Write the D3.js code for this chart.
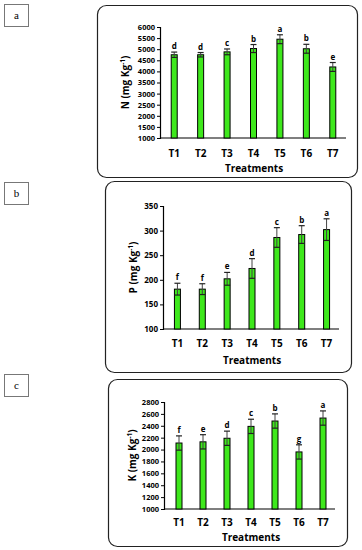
<!DOCTYPE html>
<html>
<head>
<meta charset="utf-8">
<script src="https://cdn.jsdelivr.net/npm/d3@7"></script>
<style>
  body { margin: 0; background: #fff; }
  svg text { font-family: "Open Sans", "Liberation Sans", sans-serif; }
</style>
</head>
<body>
<svg id="fig" width="362" height="550"></svg>
<script>
const treatments = ["T1", "T2", "T3", "T4", "T5", "T6", "T7"];

// N
const nValues = [4750, 4750, 4880, 5030, 5450, 5020, 4200];
const nErrors = [120, 100, 130, 180, 200, 200, 200];
const nLetters = ["d", "d", "c", "b", "a", "b", "e"];
const nTicks = [1000, 1500, 2000, 2500, 3000, 3500, 4000, 4500, 5000, 5500, 6000];

// P
const pValues = [181, 181, 202, 223, 286, 292, 302];
const pErrors = [12, 11, 13, 20, 20, 18, 22];
const pLetters = ["f", "f", "e", "d", "c", "b", "a"];
const pTicks = [100, 150, 200, 250, 300, 350];

// K
const kValues = [2110, 2130, 2190, 2390, 2480, 1960, 2530];
const kErrors = [120, 120, 120, 120, 120, 120, 120];
const kLetters = ["f", "e", "d", "c", "b", "g", "a"];
const kTicks = [1000, 1200, 1400, 1600, 1800, 2000, 2200, 2400, 2600, 2800];

const svg = d3.select('#fig');

function drawPanel(p) {
  // panel tag box
  svg.append('rect')
    .attr('x', 4.5).attr('y', p.tagY + 0.5)
    .attr('width', 24).attr('height', 22)
    .attr('fill', '#fff').attr('stroke', '#777').attr('stroke-width', 1);
  svg.append('text')
    .attr('x', 16.5).attr('y', p.tagY + 15)
    .attr('text-anchor', 'middle')
    .style('font-family', '"Liberation Serif", serif')
    .style('font-size', '11px')
    .text(p.tag);

  // rounded frame
  svg.append('rect')
    .attr('x', p.box[0] + 0.5).attr('y', p.box[1] + 0.5)
    .attr('width', p.box[2] - p.box[0]).attr('height', p.box[3] - p.box[1])
    .attr('rx', 9)
    .attr('fill', 'none').attr('stroke', '#222').attr('stroke-width', 1.2);

  const x = d3.scaleBand()
    .domain(treatments)
    .range(p.xRange)
    .paddingInner(0).paddingOuter(0);
  const y = d3.scaleLinear()
    .domain([p.ticks[0], p.ticks[p.ticks.length - 1]])
    .range(p.yRange);

  const g = svg.append('g');

  // y axis
  const yAxis = g.append('g')
    .attr('transform', `translate(${p.axisX},0)`)
    .call(d3.axisLeft(y).tickValues(p.ticks).tickSize(3).tickPadding(2).tickFormat(d3.format('d')));
  yAxis.select('.domain').attr('stroke', '#000').attr('stroke-width', 1.2);
  yAxis.selectAll('.tick line').attr('stroke', '#000');
  yAxis.selectAll('text')
    .style('font-size', p.tickFont + 'px').style('font-weight', 'bold').attr('fill', '#000');

  // x axis line
  g.append('line')
    .attr('x1', p.axisX).attr('x2', p.xEnd)
    .attr('y1', y.range()[0]).attr('y2', y.range()[0])
    .attr('stroke', '#000').attr('stroke-width', 1.2);

  const rows = treatments.map((t, i) => ({ t, v: p.values[i], e: p.errors[i], l: p.letters[i] }));
  const bw = 6;
  const cx = d => x(d.t) + x.bandwidth() / 2;

  g.selectAll('rect.bar').data(rows).join('rect')
    .attr('class', 'bar')
    .attr('x', d => cx(d) - bw / 2)
    .attr('y', d => y(d.v))
    .attr('width', bw)
    .attr('height', d => y.range()[0] - y(d.v))
    .attr('fill', '#3ee81c')
    .attr('stroke', '#000').attr('stroke-width', 1);

  // error bars
  const eb = g.selectAll('g.err').data(rows).join('g').attr('class', 'err');
  eb.append('line')
    .attr('x1', cx).attr('x2', cx)
    .attr('y1', d => y(d.v - d.e)).attr('y2', d => y(d.v + d.e))
    .attr('stroke', '#444').attr('stroke-width', 1);
  eb.append('line')
    .attr('x1', d => cx(d) - 3).attr('x2', d => cx(d) + 3)
    .attr('y1', d => y(d.v + d.e)).attr('y2', d => y(d.v + d.e))
    .attr('stroke', '#222').attr('stroke-width', 1.2);
  eb.append('line')
    .attr('x1', d => cx(d) - 3).attr('x2', d => cx(d) + 3)
    .attr('y1', d => y(d.v - d.e)).attr('y2', d => y(d.v - d.e))
    .attr('stroke', '#222').attr('stroke-width', 1.2);

  // significance letters
  g.selectAll('text.sig').data(rows).join('text')
    .attr('class', 'sig')
    .attr('x', cx)
    .attr('y', d => y(d.v + d.e) - 3)
    .attr('text-anchor', 'middle')
    .style('font-size', '8px').style('font-weight', 'bold')
    .text(d => d.l);

  // category labels
  g.selectAll('text.cat').data(treatments).join('text')
    .attr('class', 'cat')
    .attr('x', d => x(d) + x.bandwidth() / 2)
    .attr('y', p.catY)
    .attr('text-anchor', 'middle')
    .style('font-size', '10px').style('font-weight', 'bold')
    .text(d => d);

  g.append('text')
    .attr('x', p.titleX).attr('y', p.titleY)
    .attr('text-anchor', 'middle')
    .style('font-size', '10px').style('font-weight', 'bold')
    .text('Treatments');

  // y label
  const yl = g.append('text')
    .attr('transform', `translate(${p.yLabelX},${(p.yRange[0] + p.yRange[1]) / 2}) rotate(-90)`)
    .attr('text-anchor', 'middle')
    .style('font-size', '10px').style('font-weight', 'bold');
  yl.append('tspan').text(p.nutrient + ' (mg Kg');
  yl.append('tspan').attr('dy', -4).style('font-size', '6.5px').text('-1');
  yl.append('tspan').attr('dy', 4).text(')');
}

drawPanel({
  tag: 'a', tagY: 4, box: [97, 5, 357, 177],
  values: nValues, errors: nErrors, letters: nLetters, ticks: nTicks,
  nutrient: 'N', axisX: 160, xEnd: 346, xRange: [161, 346], yRange: [138, 27],
  tickFont: 7.5, catY: 157, titleX: 254, titleY: 172, yLabelX: 129
});

drawPanel({
  tag: 'b', tagY: 182, box: [105, 181, 351, 372],
  values: pValues, errors: pErrors, letters: pLetters, ticks: pTicks,
  nutrient: 'P', axisX: 163, xEnd: 339, xRange: [165, 339], yRange: [329, 206],
  tickFont: 8, catY: 347, titleX: 252, titleY: 364, yLabelX: 137
});

drawPanel({
  tag: 'c', tagY: 374, box: [108, 379, 347, 546],
  values: kValues, errors: kErrors, letters: kLetters, ticks: kTicks,
  nutrient: 'K', axisX: 164, xEnd: 335, xRange: [167, 335], yRange: [509, 402],
  tickFont: 7.5, catY: 526, titleX: 251, titleY: 541, yLabelX: 136
});
</script>
</body>
</html>
